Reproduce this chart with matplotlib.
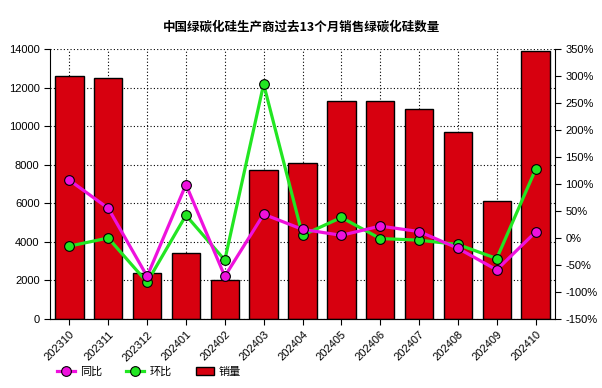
import matplotlib
matplotlib.use("Agg")
import matplotlib.pyplot as plt
import numpy as np
from matplotlib.ticker import FuncFormatter, MultipleLocator
from matplotlib.lines import Line2D
from matplotlib.patches import Patch

plt.rcParams['font.family'] = ['Liberation Sans', 'Noto Sans CJK SC', 'DejaVu Sans']

categories = ['202310', '202311', '202312', '202401', '202402', '202403', '202404',
              '202405', '202406', '202407', '202408', '202409', '202410']
sales = [12600, 12500, 2400, 3400, 2000, 7700, 8100, 11300, 11300, 10900, 9700, 6100, 13900]
yoy = [107, 55, -71, 99, -71, 44, 16, 5, 22, 12, -19, -59, 11]
mom = [-15, 0, -82, 42, -41, 285, 5, 38, -1, -4, -12, -38, 127]

PINK = '#ee11dd'
GREEN = '#22e622'
RED = '#d7000f'

fig = plt.figure(figsize=(6.02, 3.88), dpi=100)
ax = fig.add_axes([50/602, 1-319/388, 505/602, 270/388])
x = np.arange(len(categories))

ax.set_axisbelow(True)
ax.bar(x, sales, width=0.73, color=RED, edgecolor='black', linewidth=1.0, zorder=2)
ax.set_xlim(-0.5, len(categories)-0.5)
ax.set_ylim(0, 14000)
ax.yaxis.set_major_locator(MultipleLocator(2000))
ax.grid(True, axis='both', linestyle=(0, (1, 2)), color='black', linewidth=0.8, zorder=0)
ax.set_xticks(x)
ax.set_xticklabels(categories, rotation=45, ha='right', rotation_mode='anchor', fontsize=8)
ax.tick_params(axis='y', labelsize=8, direction='out', length=4)
ax.tick_params(axis='x', direction='out', length=4)
ax.spines['top'].set_visible(False)
ax.spines['right'].set_visible(False)

ax2 = ax.twinx()
ax2.set_ylim(-150, 350)
ax2.yaxis.set_major_locator(MultipleLocator(50))
ax2.yaxis.set_major_formatter(FuncFormatter(lambda v, p: f"{int(v)}%"))
ax2.tick_params(axis='y', labelsize=8, direction='out', length=4)
ax2.spines['top'].set_visible(False)
ax2.spines['left'].set_visible(False)
ax2.plot(x, mom, color=GREEN, linewidth=2.3, marker='o', markersize=7,
         markerfacecolor=GREEN, markeredgecolor='black', markeredgewidth=0.8, zorder=3)
ax2.plot(x, yoy, color=PINK, linewidth=2.3, marker='o', markersize=7,
         markerfacecolor=PINK, markeredgecolor='black', markeredgewidth=0.8, zorder=4)

fig.text(0.5, 1-27/388, '中国绿碳化硅生产商过去13个月销售绿碳化硅数量', ha='center', va='center',
         fontsize=9, fontweight='bold', family=['Noto Sans CJK SC', 'DejaVu Sans'])

handles = [
    Line2D([0], [0], color=PINK, linewidth=2.3, marker='o', markersize=7,
           markerfacecolor=PINK, markeredgecolor='black', markeredgewidth=0.8),
    Line2D([0], [0], color=GREEN, linewidth=2.3, marker='o', markersize=7,
           markerfacecolor=GREEN, markeredgecolor='black', markeredgewidth=0.8),
    Patch(facecolor=RED, edgecolor='black'),
]
fig.legend(handles, ['同比', '环比', '销量'], loc='center left', bbox_to_anchor=(57/602, 1-372/388),
           ncol=3, frameon=False, handlelength=1.6, handletextpad=0.45, columnspacing=2.2,
           borderpad=0, borderaxespad=0,
           prop={'family': ['Noto Sans CJK SC', 'DejaVu Sans'], 'size': 8})

fig.savefig('out.png', dpi=100)
